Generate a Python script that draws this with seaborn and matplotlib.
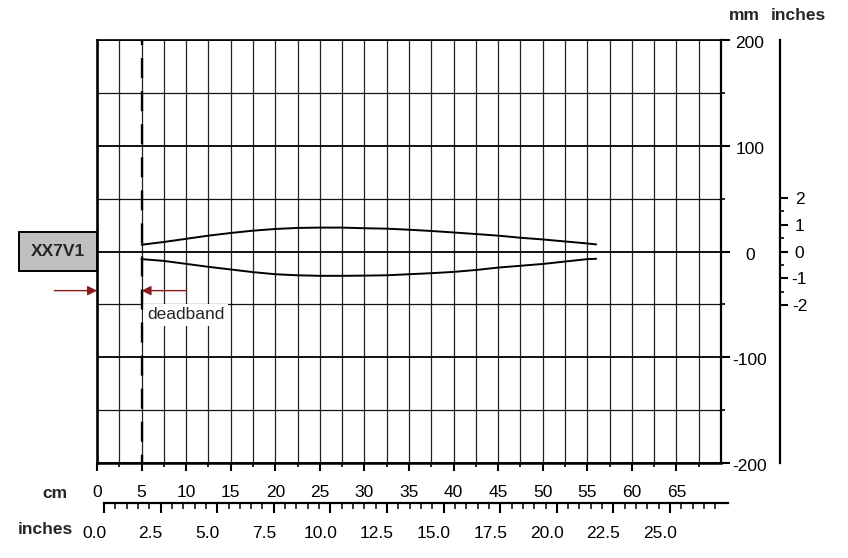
import numpy as np
import pandas as pd
import matplotlib
matplotlib.use("Agg")
import matplotlib.pyplot as plt
import seaborn as sns
from matplotlib.ticker import FixedLocator
from matplotlib.patches import Rectangle
from matplotlib.transforms import ScaledTranslation

sns.set_style("white")
plt.rcParams["font.family"] = ["Liberation Sans", "DejaVu Sans"]
plt.rcParams["axes.unicode_minus"] = False

# ---------------- data ----------------
distance_cm = [5, 7.5, 10, 12.5, 15, 17.5, 20, 22.5, 25, 27.5, 30, 32.5,
               35, 37.5, 40, 42.5, 45, 47.5, 50, 52.5, 55, 56]
upper_mm = [6.4, 9.0, 12.0, 15.0, 17.5, 19.7, 21.3, 22.3, 22.6, 22.6, 22.0, 21.6,
            20.6, 19.4, 18.0, 16.5, 15.0, 13.0, 11.4, 9.5, 7.6, 6.7]
lower_mm = [-7.2, -8.9, -11.7, -14.5, -17.0, -19.5, -21.5, -22.5, -23.0, -23.0, -22.8, -22.5,
            -21.5, -20.5, -19.3, -17.5, -15.2, -13.5, -11.8, -9.5, -7.2, -6.9]

cm_ticks = [0, 5, 10, 15, 20, 25, 30, 35, 40, 45, 50, 55, 60, 65]
cm_minor = [2.5, 7.5, 12.5, 17.5, 22.5, 27.5, 32.5, 37.5, 42.5, 47.5, 52.5, 57.5, 62.5, 67.5]
mm_ticks = [-200, -100, 0, 100, 200]
mm_labels = ["-200", "-100", "0", "100", "200"]
mm_minor = [-150, -50, 50, 150]
inch_right_ticks = [-2, -1, 0, 1, 2]
inch_right_labels = ["-2", "-1", "0", "1", "2"]
inch_right_minor = [-1.5, -0.5, 0.5, 1.5]
inch_bottom_ticks = [0, 2.5, 5, 7.5, 10, 12.5, 15, 17.5, 20, 22.5, 25]
inch_bottom_labels = ["0.0", "2.5", "5.0", "7.5", "10.0", "12.5", "15.0",
                      "17.5", "20.0", "22.5", "25.0"]
sensor_name = "XX7V1"
deadband_cm = 5
x_range_cm = (0, 70)
y_range_mm = (-200, 200)
MM_PER_INCH = 25.4
CM_PER_INCH = 2.54

# ---------------- figure ----------------
W, H = 848, 558
fig = plt.figure(figsize=(W / 100, H / 100), dpi=100)
ax = fig.add_axes([97 / W, 95 / H, 624 / W, 423 / H])

df = pd.DataFrame({
    "cm": distance_cm + distance_cm,
    "mm": upper_mm + lower_mm,
    "edge": ["upper"] * len(distance_cm) + ["lower"] * len(distance_cm),
})
sns.lineplot(data=df, x="cm", y="mm", units="edge", estimator=None, sort=False,
             color="black", lw=1.4, ax=ax, legend=False, zorder=3)

ax.set_xlim(*x_range_cm)
ax.set_ylim(*y_range_mm)
ax.set_xlabel("")
ax.set_ylabel("")
ax.set_axisbelow(True)

# x axis (cm)
ax.set_xticks(cm_ticks)
ax.set_xticklabels([str(v) for v in cm_ticks])
ax.xaxis.set_minor_locator(FixedLocator(cm_minor))
ax.tick_params(axis="x", which="major", bottom=True, direction="out", length=6,
               width=1.5, color="black", labelsize=12.5, pad=10, labelcolor="black")
ax.tick_params(axis="x", which="minor", bottom=True, direction="out", length=3,
               width=1.2, color="black")

# y axis (mm) on right
ax.yaxis.tick_right()
ax.set_yticks(mm_ticks)
ax.set_yticklabels(mm_labels)
ax.yaxis.set_minor_locator(FixedLocator(mm_minor))
ax.tick_params(axis="y", which="major", right=True, left=False, direction="out",
               length=6.5, width=1.5, color="black", labelsize=12.5, pad=14.4,
               labelright=True, labelleft=False, labelcolor="black")
ax.tick_params(axis="y", which="minor", right=True, left=False, direction="out",
               length=3, width=1.2, color="black")
for lab in ax.get_yticklabels():
    lab.set_horizontalalignment("center")
    lab.set_transform(lab.get_transform() + ScaledTranslation(0, -2 / 100, fig.dpi_scale_trans))

# grid
ax.grid(True, which="major", axis="y", color="#111111", lw=1.4)
ax.grid(True, which="minor", axis="y", color="#111111", lw=0.9)
ax.grid(True, which="both", axis="x", color="#222222", lw=0.9)

for side, lw in (("left", 1.9), ("bottom", 1.8), ("right", 1.6), ("top", 1.2)):
    ax.spines[side].set_visible(True)
    ax.spines[side].set_color("black")
    ax.spines[side].set_linewidth(lw)

# deadband dashed line
ax.axvline(deadband_cm, color="black", lw=1.7, linestyle=(5, (8.5, 5.5)), zorder=5)

# sensor label box
ax.add_patch(Rectangle((-8.75, -18.5), 8.75, 37, facecolor="#c0c0c0",
                       edgecolor="black", lw=1.4, clip_on=False, zorder=6))
ax.text(-4.4, 0, sensor_name, ha="center", va="center", fontsize=12.5,
        fontweight="bold", clip_on=False, zorder=7)

# deadband arrows
arrow_color = "#8b1a1a"
ax.annotate("", xy=(0, -37), xytext=(-4.8, -37), xycoords="data",
            annotation_clip=False,
            arrowprops=dict(arrowstyle="-|>", color=arrow_color, lw=1.0,
                            mutation_scale=14, shrinkA=0, shrinkB=0), zorder=6)
ax.annotate("", xy=(deadband_cm, -37), xytext=(10, -37), xycoords="data",
            annotation_clip=False,
            arrowprops=dict(arrowstyle="-|>", color=arrow_color, lw=1.0,
                            mutation_scale=14, shrinkA=0, shrinkB=0), zorder=6)
ax.text(5.6, -60, "deadband", ha="left", va="center", fontsize=12.5,
        bbox=dict(facecolor="white", edgecolor="none", pad=2.5), zorder=4)

# right inches axis
ax2 = fig.add_axes([779 / W, 95 / H, 0.5 / W, 423 / H])
ax2.patch.set_visible(False)
ax2.set_ylim(y_range_mm[0] / MM_PER_INCH, y_range_mm[1] / MM_PER_INCH)
ax2.set_xticks([])
for side in ("left", "top", "bottom"):
    ax2.spines[side].set_visible(False)
ax2.spines["right"].set_visible(True)
ax2.spines["right"].set_color("black")
ax2.spines["right"].set_linewidth(1.6)
ax2.yaxis.tick_right()
ax2.set_yticks(inch_right_ticks)
ax2.set_yticklabels(inch_right_labels)
ax2.yaxis.set_minor_locator(FixedLocator(inch_right_minor))
ax2.tick_params(axis="y", which="major", right=True, left=False, direction="out",
                length=5.8, width=1.5, color="black", labelsize=12.5, pad=8.6,
                labelright=True, labelleft=False, labelcolor="black")
ax2.tick_params(axis="y", which="minor", right=True, left=False, direction="out",
                length=3, width=1.2, color="black")
for lab in ax2.get_yticklabels():
    lab.set_horizontalalignment("center")

# bottom inches axis
ax3 = fig.add_axes([104 / W, 55 / H, 624 / W, 0.5 / H])
ax3.patch.set_visible(False)
ax3.set_xlim(x_range_cm[0] / CM_PER_INCH, x_range_cm[1] / CM_PER_INCH)
ax3.set_yticks([])
for side in ("left", "top", "right"):
    ax3.spines[side].set_visible(False)
ax3.spines["bottom"].set_visible(True)
ax3.spines["bottom"].set_color("black")
ax3.spines["bottom"].set_linewidth(1.6)
ax3.set_xticks(inch_bottom_ticks)
ax3.set_xticklabels(inch_bottom_labels)
ax3.xaxis.set_minor_locator(FixedLocator(np.arange(0.5, 27.5, 0.5)))
ax3.tick_params(axis="x", which="major", bottom=True, direction="out", length=7.2,
                width=1.5, color="black", labelsize=12.5, pad=9.5, labelcolor="black")
ax3.tick_params(axis="x", which="minor", bottom=True, direction="out", length=4,
                width=1.1, color="black")
shift = ScaledTranslation(-10 / 100, 0, fig.dpi_scale_trans)
for lab in ax3.get_xticklabels():
    lab.set_transform(lab.get_transform() + shift)

# headers / unit labels
fig.text(744 / W, 1 - 15 / H, "mm", ha="center", va="center", fontsize=12.5, fontweight="bold")
fig.text(798 / W, 1 - 15 / H, "inches", ha="center", va="center", fontsize=12.5, fontweight="bold")
fig.text(55 / W, 1 - 493 / H, "cm", ha="center", va="center", fontsize=12.5, fontweight="bold")
fig.text(45 / W, 1 - 530 / H, "inches", ha="center", va="center", fontsize=12.5, fontweight="bold")

fig.savefig("out.png", dpi=100)
